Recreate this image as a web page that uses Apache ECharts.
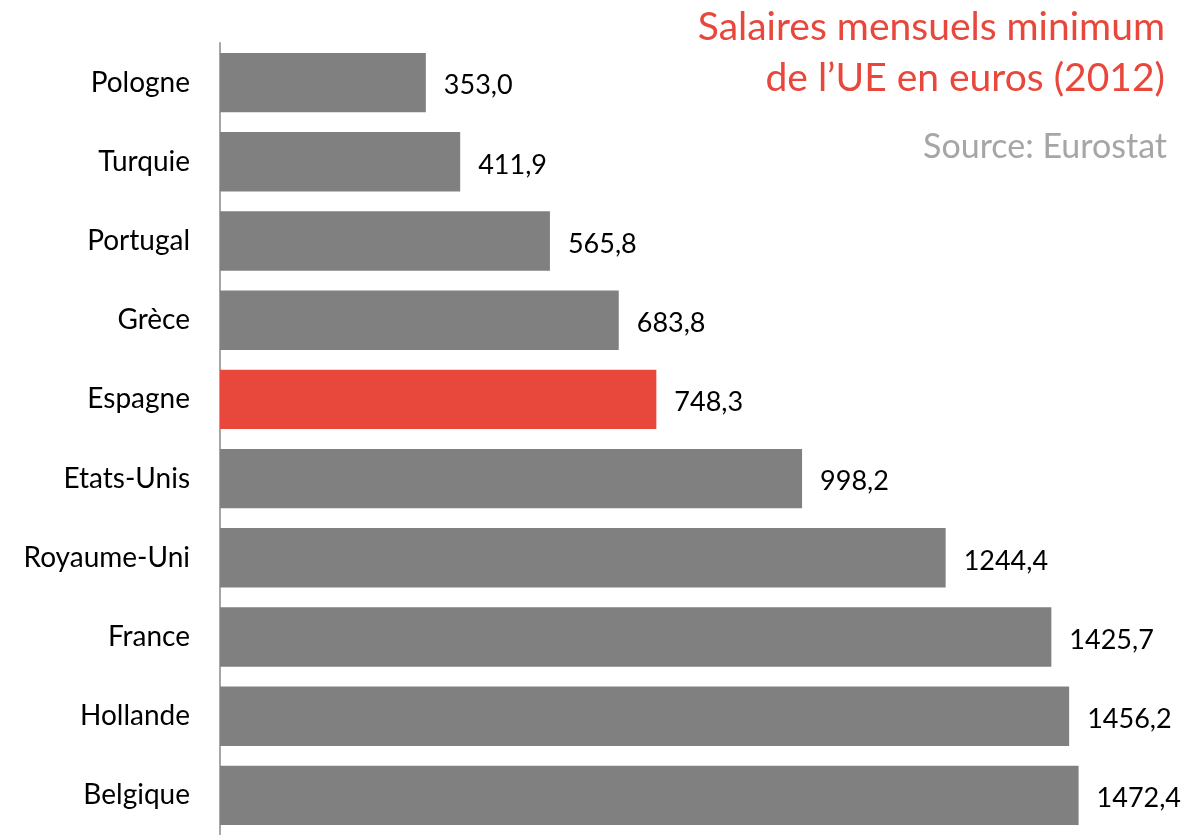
<!DOCTYPE html>
<html>
<head>
<meta charset="utf-8">
<script src="https://cdn.jsdelivr.net/npm/echarts@6/dist/echarts.min.js"></script>
<style>
  html, body { margin: 0; padding: 0; background: #fff; }
  #chart { width: 1202px; height: 835px; }
</style>
</head>
<body>
<div id="chart"></div>
<script>
// pays, du haut vers le bas
let pays = ['Pologne', 'Turquie', 'Portugal', 'Grèce', 'Espagne', 'Etats-Unis', 'Royaume-Uni', 'France', 'Hollande', 'Belgique'];
let salaires = [353.0, 411.9, 565.8, 683.8, 748.3, 998.2, 1244.4, 1425.7, 1456.2, 1472.4];
let paysEnAvant = 'Espagne'; // barre en rouge

let rouge = '#e8473c';
let gris = '#808080';
let police = 'Lato';

let chart = echarts.init(document.getElementById('chart'));

chart.setOption({
    animation: false,
    textStyle: { fontFamily: police },
    // titre et source, alignés à droite
    graphic: [
        {
            type: 'text',
            x: 1165,
            y: 2,
            style: {
                text: 'Salaires mensuels minimum\nde l’UE en euros (2012)',
                align: 'right',
                fill: rouge,
                font: '39px ' + police,
                lineHeight: 51
            }
        },
        {
            type: 'text',
            x: 1167,
            y: 130,
            style: {
                text: 'Source: Eurostat',
                align: 'right',
                fill: '#a6a6a6',
                font: '34px ' + police
            }
        }
    ],
    grid: { left: 220, top: 43, height: 800, width: 933 },
    xAxis: {
        type: 'value',
        min: 0,
        max: 1600,
        show: false
    },
    yAxis: {
        type: 'category',
        data: pays,
        inverse: true,
        axisTick: { show: false },
        axisLine: { lineStyle: { color: '#a6a6a6', width: 2 } },
        axisLabel: { color: '#000', fontSize: 28, margin: 30, fontFamily: police }
    },
    series: [{
        type: 'bar',
        barCategoryGap: '25%',
        data: salaires.map((v, i) => ({
            value: v,
            itemStyle: { color: pays[i] === paysEnAvant ? rouge : gris }
        })),
        label: {
            show: true,
            position: 'right',
            distance: 18,
            color: '#000',
            fontSize: 27,
            fontFamily: police,
            offset: [0, 3],
            formatter: p => p.value.toFixed(1).replace('.', ',')
        }
    }]
});
</script>
</body>
</html>
